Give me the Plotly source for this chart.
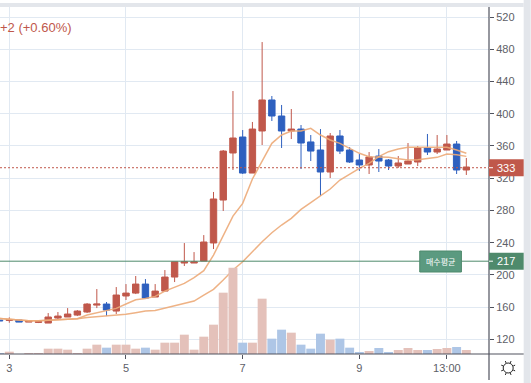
import math
import plotly.graph_objects as go

opens = [143.9, 143.5, 143.9, 141.4, 141.0, 140.2, 146.4, 147.7, 150.1, 153.9, 162.5, 163.8, 155.1, 173.8, 177.4, 188.6, 172.5, 179.9, 197.3, 214.7, 214.7, 217.2, 239.6, 292.9, 351.3, 371.1, 326.4, 378.6, 417.1, 397.2, 378.6, 381.0, 365.0, 355.0, 327.7, 372.4, 355.0, 342.6, 336.4, 347.5, 342.6, 335.1, 337.6, 340.1, 357.5, 352.5, 355.0, 362.4, 330.2]
closes = [143.0, 144.5, 141.4, 143.1, 142.0, 147.7, 148.9, 151.4, 155.1, 163.8, 163.8, 156.3, 175.0, 177.4, 188.6, 171.2, 179.9, 197.3, 216.3, 216.3, 216.3, 240.8, 294.2, 353.7, 369.9, 326.4, 381.0, 417.1, 397.2, 378.6, 381.0, 363.7, 353.7, 327.7, 372.4, 353.7, 340.1, 336.4, 346.3, 341.3, 335.1, 338.9, 341.3, 357.5, 352.5, 356.2, 362.4, 330.2, 333.9]
highs = [143.9, 147.2, 143.9, 143.1, 143.9, 152.6, 153.9, 158.8, 156.3, 165.0, 182.4, 166.3, 184.9, 188.6, 198.6, 194.8, 188.6, 206.0, 216.3, 239.5, 228.3, 249.4, 302.9, 355.0, 428.2, 379.8, 389.8, 489.0, 422.0, 410.9, 405.9, 386.0, 373.6, 381.0, 376.1, 379.8, 358.7, 350.0, 352.5, 356.2, 343.8, 347.5, 363.7, 360.0, 374.9, 373.6, 373.6, 366.2, 345.1]
lows = [143.0, 140.6, 141.4, 141.4, 140.2, 140.2, 145.2, 147.7, 148.9, 152.6, 158.8, 148.9, 151.4, 168.8, 176.2, 171.2, 172.5, 179.9, 191.1, 211.0, 214.7, 217.2, 232.1, 279.3, 330.2, 325.2, 326.4, 361.2, 391.0, 357.5, 368.6, 331.4, 341.3, 297.9, 320.2, 350.0, 338.9, 329.0, 325.2, 327.7, 330.2, 332.7, 337.6, 335.1, 348.8, 350.0, 355.0, 325.2, 324.0]
volumes = [3, 7, 0, 3, 3, 16, 16, 13, 3, 16, 28, 19, 28, 28, 16, 19, 13, 34, 34, 58, 13, 52, 88, 184, 259, 34, 34, 166, 46, 73, 64, 28, 16, 61, 43, 46, 19, 6, 9, 18, 6, 12, 18, 12, 12, 15, 18, 21, 12]
ma_fast = [146.0, 144.8, 143.9, 143.1, 143.1, 143.5, 144.3, 145.2, 145.6, 150.1, 152.6, 155.1, 158.4, 163.8, 169.2, 170.8, 173.3, 179.9, 184.5, 189.4, 196.5, 205.2, 224.6, 249.5, 273.0, 288.8, 319.0, 341.3, 363.3, 373.6, 378.6, 378.6, 381.9, 373.6, 367.4, 363.3, 357.0, 350.9, 346.7, 346.7, 345.9, 344.2, 342.6, 343.0, 344.7, 345.9, 350.0, 349.2, 347.1]
ma_slow = [146.0, 144.8, 143.9, 143.1, 143.1, 143.5, 144.3, 144.8, 145.6, 147.2, 148.1, 148.5, 149.7, 151.0, 153.0, 155.1, 155.9, 158.8, 161.3, 164.2, 167.5, 175.0, 182.0, 193.6, 206.0, 216.3, 228.8, 241.2, 252.3, 261.9, 270.1, 281.3, 289.6, 297.9, 306.6, 317.7, 325.2, 332.2, 338.4, 346.7, 352.9, 356.2, 358.3, 358.3, 359.2, 359.2, 358.3, 355.0, 350.9]
y_ticks = [120, 160, 200, 240, 280, 320, 360, 400, 440, 480, 520]
x_tick_positions = [1, 13, 25, 37, 46]
x_tick_labels = ["3", "5", "7", "9", "13:00"]
last_price = 333
avg_price = 217
avg_label = "매수평균"
change_text = "+2 (+0.60%)"

RED = "#c0584b"
BLUE = "#2e60bf"
GREEN = "#4f8a6c"
ORANGE = "rgba(236,170,120,0.9)"
GRID = "#e1e9f2"
AXIS = "#50535e"
TEXT = "#5d6068"
BAND = "#e3e6eb"
FONT = "Liberation Sans"

W, H = 531, 383
L, R, T, B = 0, 489.3, 7, 354
PW, PH = R - L, B - T

def px(v):
    return v / PW

def py(v):
    return (B - v) / PH

x = list(range(len(opens)))
vol_colors = ["#e4c1ba" if c >= o else "#aec6e6" for o, c in zip(opens, closes)]

fig = go.Figure()
fig.add_trace(go.Bar(x=x, y=volumes, yaxis="y2", marker=dict(color=vol_colors, line_width=0), width=0.92, hoverinfo="skip"))
fig.add_trace(go.Scatter(x=x, y=ma_slow, mode="lines", line=dict(color=ORANGE, width=1.5), hoverinfo="skip"))
fig.add_trace(go.Scatter(x=x, y=ma_fast, mode="lines", line=dict(color=ORANGE, width=1.5), hoverinfo="skip"))
fig.add_trace(go.Candlestick(
    x=x, open=opens, high=highs, low=lows, close=closes,
    increasing=dict(line=dict(color=RED, width=1), fillcolor=RED),
    decreasing=dict(line=dict(color=BLUE, width=1), fillcolor=BLUE),
    whiskerwidth=0,
))

gear_cx, gear_cy, gear_r = 508.5, 368, 5
shapes = [
    dict(type="rect", xref="paper", yref="paper", x0=px(0), x1=px(524), y0=py(7), y1=py(3), fillcolor=BAND, line_width=0, layer="above"),
    dict(type="rect", xref="paper", yref="paper", x0=px(524), x1=px(531), y0=py(383), y1=py(0), fillcolor=BAND, line_width=0, layer="above"),
    dict(type="line", xref="paper", yref="paper", x0=px(R), x1=px(R), y0=py(380), y1=py(7), line=dict(color=AXIS, width=1.2), layer="above"),
    dict(type="line", xref="paper", yref="paper", x0=px(0), x1=px(524), y0=py(354), y1=py(354), line=dict(color=AXIS, width=1.2), layer="above"),
    dict(type="line", xref="paper", yref="y", x0=px(0), x1=px(R), y0=last_price, y1=last_price, line=dict(color=RED, width=1, dash="2px,2px"), layer="above"),
    dict(type="line", xref="paper", yref="y", x0=px(0), x1=px(R), y0=avg_price, y1=avg_price, line=dict(color=GREEN, width=1), layer="above"),
    dict(type="rect", xref="paper", yref="y", x0=px(R), x1=px(524), y0=last_price - 10.5, y1=last_price + 10.5, fillcolor=RED, line_width=0, layer="above"),
    dict(type="rect", xref="paper", yref="y", x0=px(R), x1=px(524), y0=avg_price - 10.5, y1=avg_price + 10.5, fillcolor=GREEN, line_width=0, layer="above"),
    dict(type="line", xref="paper", yref="y", x0=px(R), x1=px(R + 4), y0=last_price, y1=last_price, line=dict(color="white", width=1), layer="above"),
    dict(type="line", xref="paper", yref="y", x0=px(R), x1=px(R + 4), y0=avg_price, y1=avg_price, line=dict(color="white", width=1), layer="above"),
    dict(type="rect", xref="paper", yref="paper", x0=px(420), x1=px(461.7), y0=py(272), y1=py(251), fillcolor="#5b9a80", line=dict(color=GREEN, width=1), layer="above"),
    dict(type="circle", xref="paper", yref="paper", x0=px(gear_cx - gear_r), x1=px(gear_cx + gear_r), y0=py(gear_cy + gear_r), y1=py(gear_cy - gear_r), line=dict(color="#222222", width=1), layer="above"),
]
for k in range(8):
    a = k * math.pi / 4 + math.pi / 8
    shapes.append(dict(type="line", xref="paper", yref="paper",
                       x0=px(gear_cx + (gear_r + 0.5) * math.cos(a)), x1=px(gear_cx + (gear_r + 2.5) * math.cos(a)),
                       y0=py(gear_cy + (gear_r + 0.5) * math.sin(a)), y1=py(gear_cy + (gear_r + 2.5) * math.sin(a)),
                       line=dict(color="#222222", width=1), layer="above"))

annotations = [
    dict(text=change_text, xref="paper", yref="paper", x=px(-2), y=py(27), xanchor="left", yanchor="middle", showarrow=False, font=dict(family=FONT, size=13, color=RED)),
    dict(text=str(last_price), xref="paper", yref="y", x=px(506.5), y=last_price, xanchor="center", yanchor="middle", showarrow=False, font=dict(family=FONT, size=11, color="white")),
    dict(text=str(avg_price), xref="paper", yref="y", x=px(506.5), y=avg_price, xanchor="center", yanchor="middle", showarrow=False, font=dict(family=FONT, size=11, color="white")),
    dict(text=avg_label, xref="paper", yref="paper", x=px(441), y=py(261.5), xanchor="center", yanchor="middle", showarrow=False, font=dict(family="Noto Sans CJK KR", size=8, color="white")),
]

fig.update_layout(
    width=W, height=H,
    margin=dict(l=L, r=W - R, t=T, b=H - B, pad=0),
    paper_bgcolor="white", plot_bgcolor="white",
    showlegend=False,
    bargap=0.08,
    boxgap=0.06,
    shapes=shapes,
    annotations=annotations,
    font=dict(family=FONT, size=11, color=TEXT),
    xaxis=dict(
        range=[0.044, 50.33], rangeslider=dict(visible=False),
        tickmode="array", tickvals=x_tick_positions, ticktext=x_tick_labels,
        ticks="outside", ticklen=4, tickcolor=AXIS, tickwidth=1,
        showgrid=True, gridcolor=GRID, gridwidth=1, zeroline=False, showline=False,
        tickfont=dict(family=FONT, size=11, color=TEXT),
    ),
    yaxis=dict(
        range=[101.8, 532.5], side="right",
        tickmode="array", tickvals=y_ticks,
        ticks="outside", ticklen=4, tickcolor=AXIS, tickwidth=1,
        showgrid=True, gridcolor=GRID, gridwidth=1, zeroline=False, showline=False,
        tickfont=dict(family=FONT, size=11, color=TEXT),
    ),
    yaxis2=dict(range=[0, PH * 3], overlaying="y", side="left", visible=False, fixedrange=True),
)

fig.write_html("out.html", config=dict(displayModeBar=False), post_script="document.body.style.margin='0';")
